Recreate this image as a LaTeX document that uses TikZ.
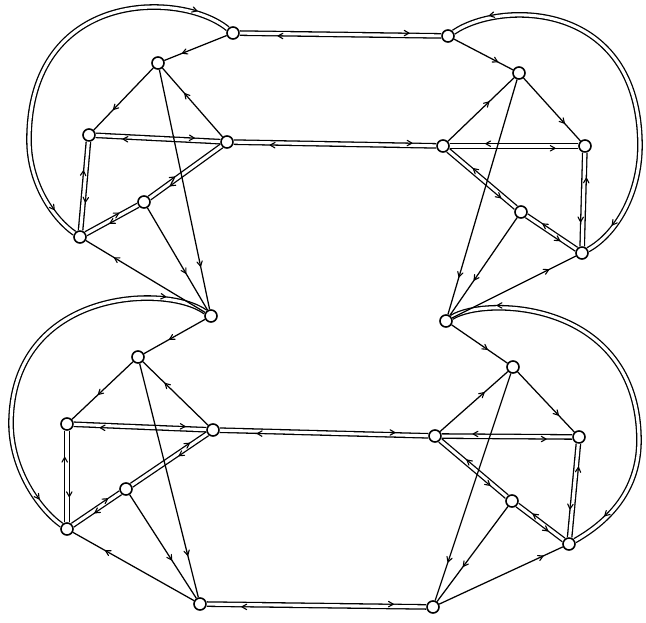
\documentclass[tikz,border=0pt]{standalone}
\usetikzlibrary{decorations.markings,calc}
\def\dsep{2.3pt}
\tikzset{
  vx/.style={circle,draw,fill=white,minimum size=12pt,inner sep=0pt,line width=1.6pt},
  sgl/.style={line width=1.25pt},
  dbl/.style={double,double distance=3.1pt,line width=1.3pt},
  tipv/.style={line width=1.1pt,line cap=round,line join=round},
  mk/.style n args={3}{postaction={decorate,decoration={markings,mark=at position #1 with {\draw[tipv] (#2*4.8pt,#3*\dsep+2.7pt) -- (0pt,#3*\dsep) -- (#2*4.8pt,#3*\dsep-2.7pt);}}}},
  fl/.style={mk={#1}{-1}{1}},
  fr/.style={mk={#1}{-1}{-1}},
  bl/.style={mk={#1}{1}{1}},
  br/.style={mk={#1}{1}{-1}},
  sa/.style={mk={#1}{-1}{0}},
}
\begin{document}
\begin{tikzpicture}[x=1pt,y=-1pt]
\useasboundingbox (0,0) rectangle (646,623);
% nodes
\node[vx] (A1) at (233,33) {};
\node[vx] (B1) at (158,63) {};
\node[vx] (C1) at (89,135) {};
\node[vx] (D1) at (227,142) {};
\node[vx] (E1) at (144,202) {};
\node[vx] (F1) at (80,237) {};
\node[vx] (G1) at (211,316) {};
\node[vx] (A2) at (448,36) {};
\node[vx] (B2) at (519,73) {};
\node[vx] (C2) at (585,146) {};
\node[vx] (D2) at (443,146) {};
\node[vx] (E2) at (521,212) {};
\node[vx] (F2) at (582,253) {};
\node[vx] (G2) at (446,321) {};
\node[vx] (B3) at (138,357) {};
\node[vx] (C3) at (67,424) {};
\node[vx] (D3) at (213,430) {};
\node[vx] (E3) at (126,489) {};
\node[vx] (F3) at (67,529) {};
\node[vx] (H3) at (200,604) {};
\node[vx] (B4) at (513,367) {};
\node[vx] (C4) at (579,437) {};
\node[vx] (D4) at (435,436) {};
\node[vx] (E4) at (512,501) {};
\node[vx] (F4) at (569,544) {};
\node[vx] (H4) at (433,607) {};
% double edges, left half
\draw[dbl,fl=0.84,br=0.19] (A1) -- (A2);
\draw[dbl,fl=0.92,br=0.09] (A1) .. controls (180,-10) and (29,-10) .. (29,140) .. controls (29,185) and (55,220) .. (F1);
\draw[dbl,fl=0.79,br=0.22] (C1) -- (D1);
\draw[dbl,fl=0.88,br=0.18] (D1) -- (D2);
\draw[dbl,fl=0.68,br=0.33] (C1) -- (F1);
\draw[dbl,fl=0.65,br=0.44] (F1) -- (E1);
\draw[dbl,fl=0.37,br=0.27] (E1) -- (D1);
\draw[dbl,fl=0.91,br=0.11] (G1) .. controls (165,283) and (12,290) .. (11,423) .. controls (11,470) and (40,510) .. (F3);
\draw[dbl,fl=0.84,br=0.2] (C3) -- (D3);
\draw[dbl,fl=0.84,br=0.18] (D3) -- (D4);
\draw[dbl,fl=0.72,br=0.29] (C3) -- (F3);
\draw[dbl,fl=0.76,br=0.44] (F3) -- (E3);
\draw[dbl,fl=0.78,br=0.61] (E3) -- (D3);
\draw[dbl,fl=0.85,br=0.16] (H3) -- (H4);
% double edges, right half
\draw[dbl,fr=0.91,bl=0.1] (A2) .. controls (501,0) and (639,0) .. (640,145) .. controls (640,195) and (615,235) .. (F2);
\draw[dbl,fr=0.82,bl=0.28] (D2) -- (C2);
\draw[dbl,fr=0.74,bl=0.27] (C2) -- (F2);
\draw[dbl,fr=0.80,bl=0.35] (D2) -- (E2);
\draw[dbl,fr=0.69,bl=0.3] (E2) -- (F2);
\draw[dbl,fr=0.9,bl=0.12] (G2) .. controls (485,296) and (638,300) .. (639,440) .. controls (639,480) and (620,515) .. (F4);
\draw[dbl,fr=0.8,bl=0.24] (D4) -- (C4);
\draw[dbl,fr=0.7,bl=0.25] (C4) -- (F4);
\draw[dbl,fr=0.77,bl=0.38] (D4) -- (E4);
\draw[dbl,fr=0.69,bl=0.31] (E4) -- (F4);
% single edges
\draw[sgl,sa=0.71] (A1) -- (B1);
\draw[sgl,sa=0.67] (B1) -- (C1);
\draw[sgl,sa=0.82] (B1) -- (G1);
\draw[sgl,sa=0.63] (D1) -- (B1);
\draw[sgl,sa=0.64] (E1) -- (G1);
\draw[sgl,sa=0.76] (G1) -- (F1);
\draw[sgl,sa=0.74] (A2) -- (B2);
\draw[sgl,sa=0.72] (B2) -- (C2);
\draw[sgl,sa=0.84] (B2) -- (G2);
\draw[sgl,sa=0.62] (D2) -- (B2);
\draw[sgl,sa=0.64] (E2) -- (G2);
\draw[sgl,sa=0.78] (G2) -- (F2);
\draw[sgl,sa=0.58] (G1) -- (B3);
\draw[sgl,sa=0.57] (B3) -- (C3);
\draw[sgl,sa=0.82] (B3) -- (H3);
\draw[sgl,sa=0.66] (D3) -- (B3);
\draw[sgl,sa=0.63] (E3) -- (H3);
\draw[sgl,sa=0.73] (H3) -- (F3);
\draw[sgl,sa=0.64] (G2) -- (B4);
\draw[sgl,sa=0.72] (B4) -- (C4);
\draw[sgl,sa=0.83] (B4) -- (H4);
\draw[sgl,sa=0.65] (D4) -- (B4);
\draw[sgl,sa=0.63] (E4) -- (H4);
\draw[sgl,sa=0.84] (H4) -- (F4);
\end{tikzpicture}
\end{document}
